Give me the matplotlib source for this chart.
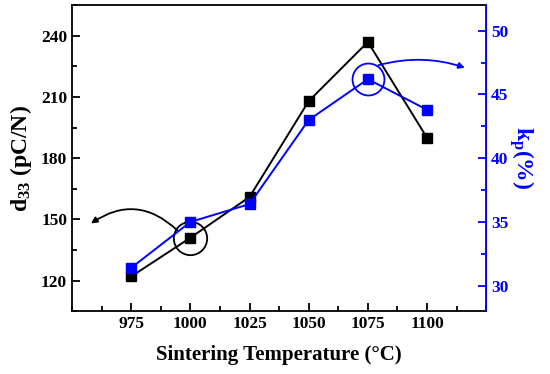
import numpy as np
import matplotlib
matplotlib.use('Agg')
import matplotlib.pyplot as plt
from matplotlib.ticker import MultipleLocator

plt.rcParams['font.family'] = ['Liberation Serif', 'DejaVu Serif']
plt.rcParams['font.weight'] = 'bold'
plt.rcParams['mathtext.fontset'] = 'custom'
plt.rcParams['mathtext.rm'] = 'Liberation Serif:bold'
plt.rcParams['mathtext.it'] = 'Liberation Serif:bold'
plt.rcParams['mathtext.bf'] = 'Liberation Serif:bold'

# datos
temps = [975, 1000, 1025, 1050, 1075, 1100]
d33 = [122, 141, 161, 208, 237, 190]
kp = [31.4, 35.0, 36.4, 43.0, 46.2, 43.8]

blue = '#0000ff'

fig = plt.figure(figsize=(5.5, 3.74), dpi=100)
ax = fig.add_axes([0.131, 0.168, 0.753, 0.818])
ax2 = ax.twinx()

ax.plot(temps, d33, color='black', lw=1.4, marker='s', ms=7, mfc='black', mec='black')
ax2.plot(temps, kp, color=blue, lw=1.4, marker='s', ms=7, mfc=blue, mec=blue)

ax.set_xlim(950, 1125)
ax.set_ylim(105, 255)
ax2.set_ylim(28, 52)

ax.xaxis.set_major_locator(MultipleLocator(25))
ax.xaxis.set_minor_locator(MultipleLocator(12.5))
ax.yaxis.set_major_locator(MultipleLocator(30))
ax.yaxis.set_minor_locator(MultipleLocator(15))
ax2.yaxis.set_major_locator(MultipleLocator(5))
ax2.yaxis.set_minor_locator(MultipleLocator(2.5))
ax.set_xticks([975, 1000, 1025, 1050, 1075, 1100])

ax.tick_params(axis='both', which='both', direction='in', labelsize=12.5, width=1.3)
ax.tick_params(which='major', length=6)
ax.tick_params(which='minor', length=3.5)
ax.tick_params(top=False, which='both')
ax2.tick_params(axis='y', which='both', direction='in', colors=blue, labelsize=12.5, width=1.3)
ax2.tick_params(which='major', length=6)
ax2.tick_params(which='minor', length=3.5)

for s in ['left', 'top', 'bottom']:
    ax.spines[s].set_linewidth(1.3)
ax2.spines['right'].set_color(blue)
ax2.spines['right'].set_linewidth(1.3)
for s in ['left', 'top', 'bottom']:
    ax2.spines[s].set_visible(False)

ax.set_xlabel('Sintering Temperature (°C)', fontsize=15, fontweight='bold', labelpad=9)
ax.set_ylabel('d$_{33}$ (pC/N)', fontsize=17, fontweight='bold', labelpad=5)
ax2.set_ylabel('k$_{p}$(%)', fontsize=17, fontweight='bold', color=blue, rotation=270, labelpad=20)

# circulos y flechas
ax.plot([1000], [140.7], 'o', ms=24, mfc='none', mec='black', mew=1.3)
ax.annotate('', xy=(958, 148), xytext=(994.5, 144.6),
            arrowprops=dict(arrowstyle='-|>', color='black', lw=1.3,
                            connectionstyle='arc3,rad=0.4', shrinkA=0, shrinkB=0,
                            mutation_scale=9))
ax2.plot([1075], [46.2], 'o', ms=23, mfc='none', mec=blue, mew=1.3)
ax2.annotate('', xy=(1116, 47.1), xytext=(1079.5, 47.3),
             arrowprops=dict(arrowstyle='-|>', color=blue, lw=1.3,
                             connectionstyle='arc3,rad=-0.15', shrinkA=0, shrinkB=0,
                             mutation_scale=9))

fig.savefig('out.png', dpi=100)
